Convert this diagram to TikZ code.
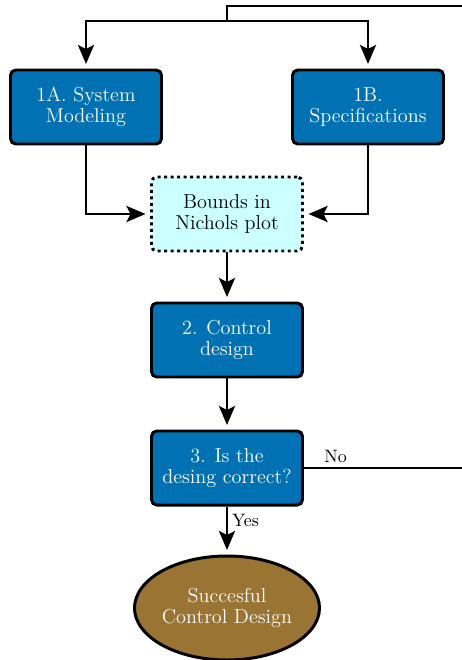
\documentclass[tikz,border=0pt]{standalone}
\usetikzlibrary{arrows.meta,shapes.geometric}
\definecolor{boxblue}{RGB}{0,114,180}
\definecolor{boundcyan}{RGB}{204,255,255}
\definecolor{endbrown}{RGB}{153,116,51}
\newlength{\pxu}
\setlength{\pxu}{0.02cm}
\tikzset{
  proc/.style={draw=black, line width=1.7pt, rounded corners=3pt, fill=boxblue,
    text=white, align=center, minimum width=151\pxu, minimum height=74\pxu,
    inner sep=2pt, font=\fontsize{11.5}{12}\selectfont},
  bound/.style={proc, fill=boundcyan, text=black, dotted},
  finish/.style={ellipse, draw=black, line width=1.7pt, fill=endbrown, text=white,
    align=center, minimum width=185\pxu, minimum height=104\pxu, inner sep=0pt,
    font=\fontsize{11.5}{12}\selectfont},
  conn/.style={line width=1.7pt},
  arr/.style={conn, -{Stealth[length=0.38cm,width=0.32cm,inset=0.08cm]}, shorten >=0.09cm},
  lab/.style={font=\fontsize{10.2}{12}\selectfont, inner sep=2pt}
}
\begin{document}
\begin{tikzpicture}[x=0.02cm,y=-0.02cm]
\useasboundingbox (0,0) rectangle (462,660);
\node[proc] (a) at (86,107) {1A. System\\Modeling};
\node[proc] (b) at (368,107) {1B.\\Specifications};
\node[bound] (c) at (227,214) {Bounds in\\Nichols plot};
\node[proc] (d) at (227,340) {2. Control\\design};
\node[proc] (e) at (227,468) {3. Is the\\desing correct?};
\node[finish] (f) at (227,608) {Succesful\\Control Design};
\coordinate (tr) at (462,6);
\coordinate (tm) at (227,6);
\coordinate (sp) at (227,21);
\coordinate (nr) at (462,468);
\draw[conn] (tr) -- (tm) -- (sp);
\draw[arr] (sp) -| (a.north);
\draw[arr] (sp) -| (b.north);
\draw[arr] (a.south) |- (c.west);
\draw[arr] (b.south) |- (c.east);
\draw[arr] (c) -- (d);
\draw[arr] (d) -- (e);
\draw[arr] (e) -- node[lab, right, pos=0.3] {Yes} (f);
\draw[conn] (e.east) -- node[lab, above, pos=0.2] {No} (nr);
\end{tikzpicture}
\end{document}
